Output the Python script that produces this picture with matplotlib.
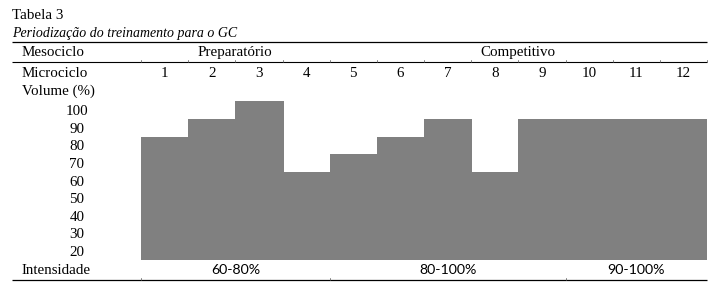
import matplotlib
matplotlib.use("Agg")
import matplotlib.pyplot as plt
import matplotlib.transforms as mtransforms

# ---- data ----
title = "Tabela 3"
subtitle = "Periodização do treinamento para o GC"
microciclos = ["1", "2", "3", "4", "5", "6", "7", "8", "9", "10", "11", "12"]
volume = [80, 90, 100, 60, 70, 80, 90, 60, 90, 90, 90, 90]
volume_levels = [100, 90, 80, 70, 60, 50, 40, 30, 20]
mesociclos = ["Preparatório", "Competitivo"]
mesociclo_spans = [(1, 4), (5, 12)]
intensidades = ["60-80%", "80-100%", "90-100%"]
intensidade_spans = [(1, 4), (5, 9), (10, 12)]

W, H = 723, 293
fig = plt.figure(figsize=(W / 100, H / 100), dpi=100)

# overlay axes in pixel coordinates for the table text and rules
ov = fig.add_axes([0, 0, 1, 1])
ov.set_xlim(0, W)
ov.set_ylim(H, 0)
ov.axis("off")

serif = ["Liberation Serif", "DejaVu Serif"]
fs = 10.8
dy = 1.5  # small vertical text offset

x0, x1 = 141, 707  # column area in pixels
colw = (x1 - x0) / len(microciclos)

def colx(i):
    return x0 + (i - 0.5) * colw

ov.text(12, 14 + dy, title, fontsize=fs, family=serif, va="center", ha="left")
ov.text(12, 32 + dy, subtitle, fontsize=10.0, family=serif, style="italic",
        va="center", ha="left")

# rules
ov.plot([12, x1], [42, 42], color="black", lw=0.9, solid_capstyle="butt")
ov.plot([12, x1], [62, 62], color="black", lw=0.8, solid_capstyle="butt")
ov.plot([12, x1], [279.5, 279.5], color="black", lw=0.9, solid_capstyle="butt")
for k in range(len(microciclos) + 1):
    xb = x0 + k * colw
    ov.plot([xb, xb], [60, 62], color="#555555", lw=0.5)
for (a, b) in intensidade_spans:
    xb = x0 + (a - 1) * colw
    ov.plot([xb, xb], [277.5, 279.5], color="#555555", lw=0.5)

# row labels
ov.text(22, 51 + dy, "Mesociclo", fontsize=fs, family=serif, va="center", ha="left")
ov.text(22, 72 + dy, "Microciclo", fontsize=fs, family=serif, va="center", ha="left")
ov.text(22, 90 + dy, "Volume (%)", fontsize=fs, family=serif, va="center", ha="left")
ov.text(22, 269 + dy, "Intensidade", fontsize=fs, family=serif, va="center", ha="left")

for name, (a, b) in zip(mesociclos, mesociclo_spans):
    xc = (x0 + (a - 1) * colw + x0 + b * colw) / 2
    ov.text(xc, 51 + dy, name, fontsize=fs, family=serif, va="center", ha="center")

for i, lab in enumerate(microciclos, start=1):
    ov.text(colx(i), 72 + dy, lab, fontsize=fs, family=serif, va="center", ha="center")

for name, (a, b) in zip(intensidades, intensidade_spans):
    xc = (x0 + (a - 1) * colw + x0 + b * colw) / 2
    ov.text(xc, 269 + dy, name, fontsize=10.2, family=["Lato", "DejaVu Sans"],
            va="center", ha="center")

# bar axes: rows are cells centred on each volume level
step = 10
ylo = min(volume_levels) - step / 2
yhi = max(volume_levels) + step / 2
px_top, px_bot = 101.5, 259.5
ax = fig.add_axes([x0 / W, (H - px_bot) / H, (x1 - x0) / W, (px_bot - px_top) / H])
ax.set_xlim(0.5, len(microciclos) + 0.5)
ax.set_ylim(ylo, yhi)
ax.axis("off")
xs = list(range(1, len(microciclos) + 1))
heights = [v + step / 2 - ylo for v in volume]
ax.bar(xs, heights, width=1.0, bottom=ylo, color="#808080",
       edgecolor="#808080", linewidth=0.6, antialiased=False)

# volume level labels aligned to the bar axes rows, centred at x=77 px
tr = mtransforms.blended_transform_factory(ov.transData, ax.transData)
for lv in volume_levels:
    t = ov.text(77, lv, str(lv), transform=tr, fontsize=fs, family=serif,
                va="center", ha="center")
    t.set_transform(tr + mtransforms.ScaledTranslation(0, -dy / 100, fig.dpi_scale_trans))

fig.savefig("out.png", dpi=100)
